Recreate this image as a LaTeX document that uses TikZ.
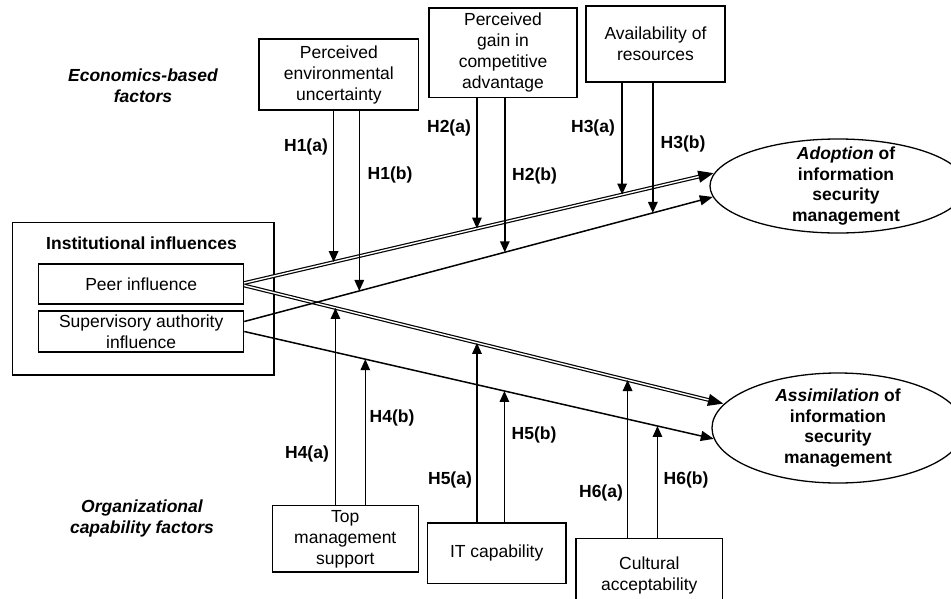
\documentclass[tikz,border=0pt]{standalone}
\usepackage{fontspec}
\setmainfont{Liberation Sans}
\usetikzlibrary{arrows.meta,shapes.geometric,calc}

\begin{document}
\begin{tikzpicture}[x=1pt,y=-1pt,
  every node/.style={font=\fontsize{17.5}{21}\selectfont, inner sep=0pt},
  box/.style={draw, line width=1.2pt, align=center},
  hyp/.style={font=\fontsize{17.5}{21}\selectfont\bfseries},
  grp/.style={font=\fontsize{17.5}{21}\selectfont\bfseries\itshape, align=center},
  oval/.style={draw, ellipse, line width=1.3pt, inner sep=0pt},
  ovaltext/.style={font=\fontsize{17.5}{20.5}\selectfont\bfseries, align=center},
  link/.style={line width=1.5pt, -{Triangle[length=13pt,width=10pt]}},
  dlink/.style={line width=3.8pt, -{Triangle[length=16pt,width=11pt]}},
  dgap/.style={white, line width=1.4pt, shorten >=16pt},
  hyparrow/.style={line width=1.5pt, -{Triangle[length=11pt,width=9.5pt]}},
]
\useasboundingbox (0,0) rectangle (951,598);
\clip (0,0) rectangle (951,598);

% group labels
\node[grp] (econ) at (143,86) {Economics-based\\factors};
\node[grp] (orgcap) at (142,518) {Organizational\\capability factors};

% institutional influences block
\node[box, minimum width=261.3pt, minimum height=152.3pt] (inst) at (143.35,298.85) {};
\node[font=\fontsize{17.5}{21}\selectfont\bfseries] (insttitle) at (141.5,243) {Institutional influences};
\node[box, minimum width=205pt, minimum height=40pt] (peer) at (141.2,284) {Peer influence};
\node[box, minimum width=205pt, minimum height=41pt] (sup) at (141.2,331.5) {Supervisory authority\\influence};

% economics-based factors
\node[box, minimum width=159.7pt, minimum height=71pt] (env) at (338.9,74.5) {Perceived\\environmental\\uncertainty};
\node[box, minimum width=148pt, minimum height=89.7pt] (gain) at (503,52.9) {Perceived\\gain in\\competitive\\advantage};
\node[box, minimum width=139pt, minimum height=76pt] (res) at (655.5,44) {Availability of\\resources};

% organizational capability factors
\node[box, minimum width=146pt, minimum height=66.3pt] (tms) at (345.3,538.9) {Top\\management\\support};
\node[box, minimum width=138.7pt, minimum height=60.3pt] (itc) at (496.7,553.2) {IT capability};
\node[box, minimum width=146.7pt, minimum height=73.7pt] (cult) at (649.3,575.2) {Cultural\\acceptability};

% outcomes
\node[oval, minimum width=256pt, minimum height=94pt] (adopt) at (838,186) {};
\node[ovaltext] (adoptlbl) at ([xshift=8pt]adopt.center) {\textit{Adoption} of\\information\\security\\management};
\node[oval, minimum width=252pt, minimum height=110pt] (assim) at (838,428) {};
\node[ovaltext] (assimlbl) at (assim.center) {\textit{Assimilation} of\\information\\security\\management};

% connector end points
\coordinate (pa0) at ([yshift=1pt]peer.east);
\coordinate (pa1) at (adopt.174);
\coordinate (ps0) at ([yshift=-1.5pt]peer.east);
\coordinate (ps1) at (assim.168);
\coordinate (sa0) at ([yshift=10pt]sup.east);
\coordinate (sa1) at (adopt.185);
\coordinate (ss0) at (sup.east);
\coordinate (ss1) at (assim.185);

% double connectors from peer influence
\draw[dlink] (pa0) -- (pa1);
\draw[dlink] (ps0) -- (ps1);
\draw[dgap] (pa0) -- (pa1);
\draw[dgap] (ps0) -- (ps1);

% single connectors from supervisory authority influence
\draw[link] (sa0) -- (sa1);
\draw[link] (ss0) -- (ss1);

% moderation points on the connectors
\coordinate (h1a) at ($(pa0)!0.190!(pa1)$);
\coordinate (h1b) at ($(sa0)!0.2454!(sa1)$);
\coordinate (h2a) at ($(pa0)!0.495!(pa1)$);
\coordinate (h2b) at ($(sa0)!0.556!(sa1)$);
\coordinate (h3a) at ($(pa0)!0.804!(pa1)$);
\coordinate (h3b) at ($(sa0)!0.872!(sa1)$);
\coordinate (h4a) at ($(ps0)!0.190!(ps1)$);
\coordinate (h4b) at ($(ss0)!0.2577!(ss1)$);
\coordinate (h5a) at ($(ps0)!0.485!(ps1)$);
\coordinate (h5b) at ($(ss0)!0.554!(ss1)$);
\coordinate (h6a) at ($(ps0)!0.799!(ps1)$);
\coordinate (h6b) at ($(ss0)!0.880!(ss1)$);

% moderating arrows
\draw[hyparrow] (env.south -| h1a) -- (h1a);
\draw[hyparrow] (env.south -| h1b) -- (h1b);
\draw[hyparrow] (gain.south -| h2a) -- (h2a);
\draw[hyparrow] (gain.south -| h2b) -- (h2b);
\draw[hyparrow] (res.south -| h3a) -- (h3a);
\draw[hyparrow] (res.south -| h3b) -- (h3b);
\draw[hyparrow] (tms.north -| h4a) -- (h4a);
\draw[hyparrow] (tms.north -| h4b) -- (h4b);
\draw[hyparrow] (itc.north -| h5a) -- (h5a);
\draw[hyparrow] (itc.north -| h5b) -- (h5b);
\draw[hyparrow] (cult.north -| h6a) -- (h6a);
\draw[hyparrow] (cult.north -| h6b) -- (h6b);

% hypothesis labels
\node[hyp] (l1a) at (306,147) {H1(a)};
\node[hyp] (l1b) at (390,175) {H1(b)};
\node[hyp] (l2a) at (449,128) {H2(a)};
\node[hyp] (l2b) at (534.5,176) {H2(b)};
\node[hyp] (l3a) at (593,128) {H3(a)};
\node[hyp] (l3b) at (683,144) {H3(b)};
\node[hyp] (l4a) at (307,454) {H4(a)};
\node[hyp] (l4b) at (392,417.7) {H4(b)};
\node[hyp] (l5a) at (450,480) {H5(a)};
\node[hyp] (l5b) at (534,435) {H5(b)};
\node[hyp] (l6a) at (601,492.7) {H6(a)};
\node[hyp] (l6b) at (686,480) {H6(b)};
\end{tikzpicture}
\end{document}
